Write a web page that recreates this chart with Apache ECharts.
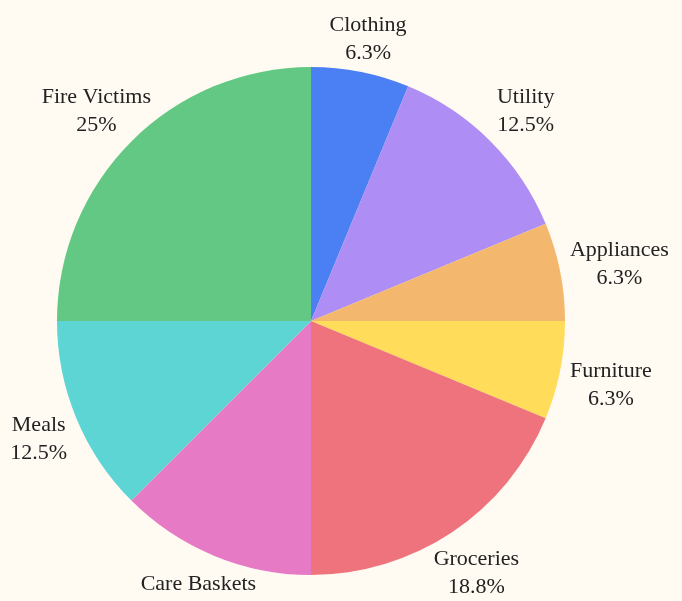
<!DOCTYPE html>
<html>
<head>
<meta charset="utf-8">
<script src="https://cdn.jsdelivr.net/npm/echarts@6/dist/echarts.min.js"></script>
<style>
  html, body { margin: 0; padding: 0; background: #fffaf2; }
  #main { width: 682px; height: 601px; }
</style>
</head>
<body>
<div id="main"></div>
<script>
// 数据
var categories = ["Clothing", "Utility", "Appliances", "Furniture", "Groceries", "Care Baskets", "Meals", "Fire Victims"];
var values = [1, 2, 1, 1, 3, 2, 2, 4];
var colors = ["#4b80f5", "#ae8df4", "#f3b86d", "#ffdd5a", "#ef737c", "#e77ac4", "#5dd5d5", "#62c883"];

var cx = 311, cy = 321, radius = 254, offset = 10, shiftY = 5;
var total = values.reduce(function (a, b) { return a + b; }, 0);

function pct(v) {
  return Math.round(v / total * 1000) / 10;
}

// 每个扇区中间角度（从顶部开始顺时针）
function midAngle(i) {
  var acc = 0;
  for (var k = 0; k < i; k++) acc += values[k];
  acc += values[i] / 2;
  return Math.PI / 2 - acc / total * Math.PI * 2;
}

var myChart = echarts.init(document.getElementById("main"));

var option = {
  backgroundColor: "#fffaf2",
  animation: false,
  series: [
    {
      type: "pie",
      center: [cx, cy],
      radius: radius,
      startAngle: 90,
      clockwise: true,
      avoidLabelOverlap: false,
      data: categories.map(function (name, i) {
        return { name: name, value: values[i], itemStyle: { color: colors[i] } };
      }),
      label: {
        show: true,
        position: "outside",
        color: "#222",
        fontFamily: "Liberation Serif",
        fontSize: 22,
        lineHeight: 28,
        align: "center",
        formatter: function (p) {
          return p.name + "\n" + pct(p.value) + "%";
        }
      },
      labelLine: { show: false },
      // 标签放在扇区外侧，沿中线方向
      labelLayout: function (params) {
        var a = midAngle(params.dataIndex);
        var dx = Math.cos(a), dy = -Math.sin(a);
        var w = params.labelRect.width, h = params.labelRect.height;
        var d = Math.min(
          Math.abs(dx) > 1e-6 ? w / 2 / Math.abs(dx) : Infinity,
          Math.abs(dy) > 1e-6 ? h / 2 / Math.abs(dy) : Infinity
        );
        var dist = radius + offset + d;
        return {
          x: cx + dx * dist,
          y: cy + dy * dist + shiftY,
          align: "center",
          verticalAlign: "middle"
        };
      }
    }
  ]
};

myChart.setOption(option);
</script>
</body>
</html>
